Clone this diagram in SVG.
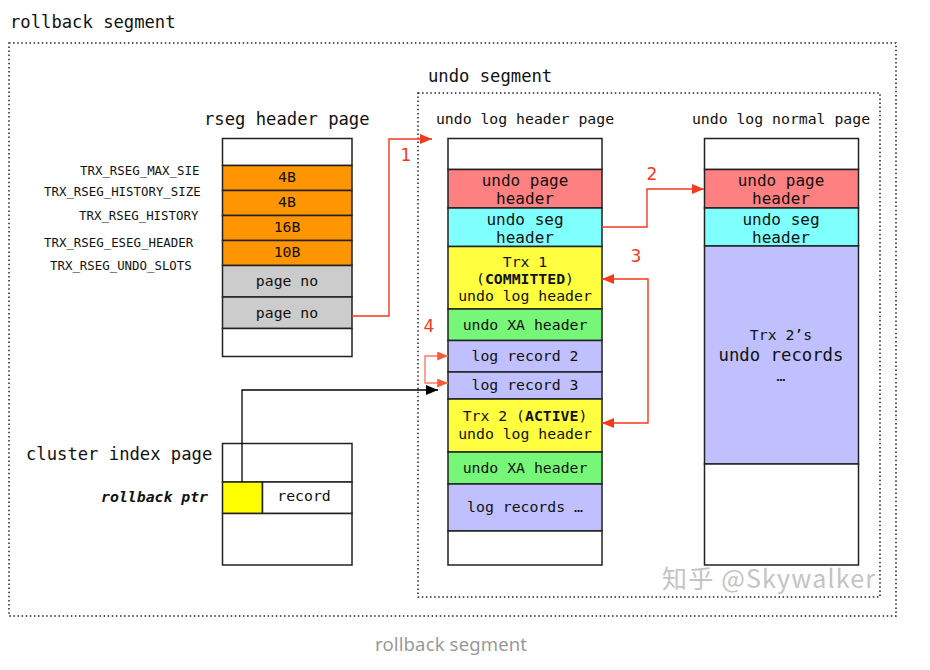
<svg xmlns="http://www.w3.org/2000/svg" width="930" height="670" viewBox="0 0 930 670">
<defs>
<style>
.mono{font-family:"DejaVu Sans Mono","Liberation Mono",monospace;fill:#111;}
.t17{font-size:17.2px;}
.t15{font-size:14.8px;text-anchor:middle;}
.t16{font-size:16px;text-anchor:middle;}
.lbl{font-size:12.4px;}
.dot{fill:none;stroke:#222;stroke-width:1.5;stroke-dasharray:1.5 2.6;}
.cell{stroke:#222;stroke-width:1.5;}
.red{fill:none;stroke:#f33a1c;stroke-width:1.4;}
.red4{fill:none;stroke:#ff7a5c;stroke-width:1.4;}
.num{font-family:"DejaVu Sans","Liberation Sans",sans-serif;font-size:17px;fill:#f33a1c;text-anchor:middle;}
</style>
<marker id="ar" viewBox="0 0 12 10" refX="12" refY="5" markerWidth="12" markerHeight="10" markerUnits="userSpaceOnUse" orient="auto-start-reverse"><path d="M0,0 L12,5 L0,10 Z" fill="#f33a1c"/></marker>
<marker id="ar4" viewBox="0 0 12 10" refX="12" refY="5" markerWidth="12" markerHeight="9" markerUnits="userSpaceOnUse" orient="auto-start-reverse"><path d="M0,0 L12,5 L0,10 Z" fill="#ff5a38"/></marker>
<marker id="ab" viewBox="0 0 12 10" refX="12" refY="5" markerWidth="12" markerHeight="10" markerUnits="userSpaceOnUse" orient="auto"><path d="M0,0 L12,5 L0,10 Z" fill="#000"/></marker>
</defs>
<rect width="930" height="670" fill="#fff"/>

<g id="rollback-segment">
<rect class="dot" x="9" y="43" width="887" height="573"/>
<text class="mono t17" x="10" y="28">rollback segment</text>
</g>

<g id="undo-segment">
<rect class="dot" x="418" y="93" width="462" height="504"/>
<text class="mono t17" x="428" y="82">undo segment</text>
</g>

<g id="rseg-header-page">
<text class="mono t17" x="204" y="125">rseg header page</text>
<g class="mono lbl">
<text x="80" y="175">TRX_RSEG_MAX_SIE</text>
<text x="44" y="196">TRX_RSEG_HISTORY_SIZE</text>
<text x="79" y="220">TRX_RSEG_HISTORY</text>
<text x="44" y="247">TRX_RSEG_ESEG_HEADER</text>
<text x="50" y="270">TRX_RSEG_UNDO_SLOTS</text>
</g>
<rect class="cell" x="222.5" y="138.5" width="129.5" height="27" fill="#fff"/>
<rect class="cell" x="222.5" y="165.5" width="129.5" height="25" fill="#ff9500"/>
<rect class="cell" x="222.5" y="190.5" width="129.5" height="25" fill="#ff9500"/>
<rect class="cell" x="222.5" y="215.5" width="129.5" height="25" fill="#ff9500"/>
<rect class="cell" x="222.5" y="240.5" width="129.5" height="25" fill="#ff9500"/>
<rect class="cell" x="222.5" y="265.5" width="129.5" height="31.5" fill="#cccccc"/>
<rect class="cell" x="222.5" y="297" width="129.5" height="31.5" fill="#cccccc"/>
<rect class="cell" x="222.5" y="328.5" width="129.5" height="28" fill="#fff"/>
<g class="mono t15">
<text x="287" y="182">4B</text>
<text x="287" y="207">4B</text>
<text x="287" y="232">16B</text>
<text x="287" y="257">10B</text>
<text x="287" y="286">page no</text>
<text x="287" y="318">page no</text>
</g>
</g>

<g id="undo-log-header-page">
<text class="mono t15" x="525" y="124">undo log header page</text>
<rect class="cell" x="448" y="138.5" width="154" height="31" fill="#fff"/>
<rect class="cell" x="448" y="169.5" width="154" height="38.5" fill="#ff8080"/>
<rect class="cell" x="448" y="208" width="154" height="38.5" fill="#80ffff"/>
<rect class="cell" x="448" y="246.5" width="154" height="62.5" fill="#ffff40"/>
<rect class="cell" x="448" y="309" width="154" height="31.5" fill="#77f777"/>
<rect class="cell" x="448" y="340.5" width="154" height="31.5" fill="#c0c0ff"/>
<rect class="cell" x="448" y="372" width="154" height="27" fill="#c0c0ff"/>
<rect class="cell" x="448" y="399" width="154" height="53" fill="#ffff40"/>
<rect class="cell" x="448" y="452" width="154" height="32" fill="#77f777"/>
<rect class="cell" x="448" y="484" width="154" height="47" fill="#c0c0ff"/>
<rect class="cell" x="448" y="531" width="154" height="34" fill="#fff"/>
<g class="mono t16">
<text x="525" y="186">undo page</text>
<text x="525" y="204">header</text>
<text x="525" y="225">undo seg</text>
<text x="525" y="243">header</text>
</g>
<g class="mono t15">
<text x="525" y="267">Trx 1</text>
<text x="525" y="284"><tspan>(</tspan><tspan font-weight="bold">COMMITTED</tspan><tspan>)</tspan></text>
<text x="525" y="301">undo log header</text>
<text x="525" y="330">undo XA header</text>
<text x="525" y="361">log record 2</text>
<text x="525" y="390">log record 3</text>
<text x="525" y="421">Trx 2 (<tspan font-weight="bold">ACTIVE</tspan>)</text>
<text x="525" y="439">undo log header</text>
<text x="525" y="473">undo XA header</text>
<text x="525" y="512">log records …</text>
</g>
</g>

<g id="undo-log-normal-page">
<text class="mono t15" x="781" y="124">undo log normal page</text>
<rect class="cell" x="704.5" y="138.5" width="154" height="31" fill="#fff"/>
<rect class="cell" x="704.5" y="169.5" width="154" height="38.5" fill="#ff8080"/>
<rect class="cell" x="704.5" y="208" width="154" height="38" fill="#80ffff"/>
<rect class="cell" x="704.5" y="246" width="154" height="218" fill="#c0c0ff"/>
<rect class="cell" x="704.5" y="464" width="154" height="101" fill="#fff"/>
<g class="mono t16">
<text x="781" y="186">undo page</text>
<text x="781" y="204">header</text>
<text x="781" y="225">undo seg</text>
<text x="781" y="243">header</text>
</g>
<text class="mono t15" x="781" y="340">Trx 2’s</text>
<text class="mono t16" x="781" y="361" style="font-size:17.3px">undo records</text>
<text class="mono t15" x="781" y="381">…</text>
</g>

<g id="cluster-index-page">
<text class="mono t17" x="26" y="460">cluster index page</text>
<text class="mono" x="208" y="502" style="font-size:14.8px;font-weight:bold;font-style:italic;text-anchor:end">rollback ptr</text>
<rect class="cell" x="222.5" y="443.5" width="129.5" height="38.5" fill="#fff"/>
<rect class="cell" x="222.5" y="482" width="40" height="31.5" fill="#ffff00"/>
<rect class="cell" x="262.5" y="482" width="89.5" height="31.5" fill="#fff"/>
<rect class="cell" x="222.5" y="513.5" width="129.5" height="51.5" fill="#fff"/>
<text class="mono t15" x="304" y="501">record</text>
</g>

<g id="connectors">
<path class="red" d="M352,316 H389 V139 H432" marker-end="url(#ar)"/>
<text class="num" x="406" y="161">1</text>
<path class="red" d="M602,227 H647 V189 H704" marker-end="url(#ar)"/>
<text class="num" x="652" y="180">2</text>
<path class="red" d="M602,279 H648 V423 H602" marker-start="url(#ar)" marker-end="url(#ar)"/>
<text class="num" x="636" y="262">3</text>
<path class="red4" d="M448,356 H425 V383 H448" marker-start="url(#ar4)" marker-end="url(#ar4)"/>
<text class="num" x="429" y="332">4</text>
<path fill="none" stroke="#000" stroke-width="1.3" d="M242,482 V390 H438" marker-end="url(#ab)"/>
</g>

<text x="451" y="651" textLength="152" style="font-family:'Noto Sans','Open Sans',sans-serif;font-size:18.5px;fill:#999;text-anchor:middle">rollback segment</text>
<text x="662" y="588" textLength="213" style="font-family:'Noto Sans CJK SC','Noto Sans',sans-serif;font-size:25px;fill:#c4c4c4;stroke:#fff;stroke-width:0.6;paint-order:stroke">知乎 @Skywalker</text>
</svg>
